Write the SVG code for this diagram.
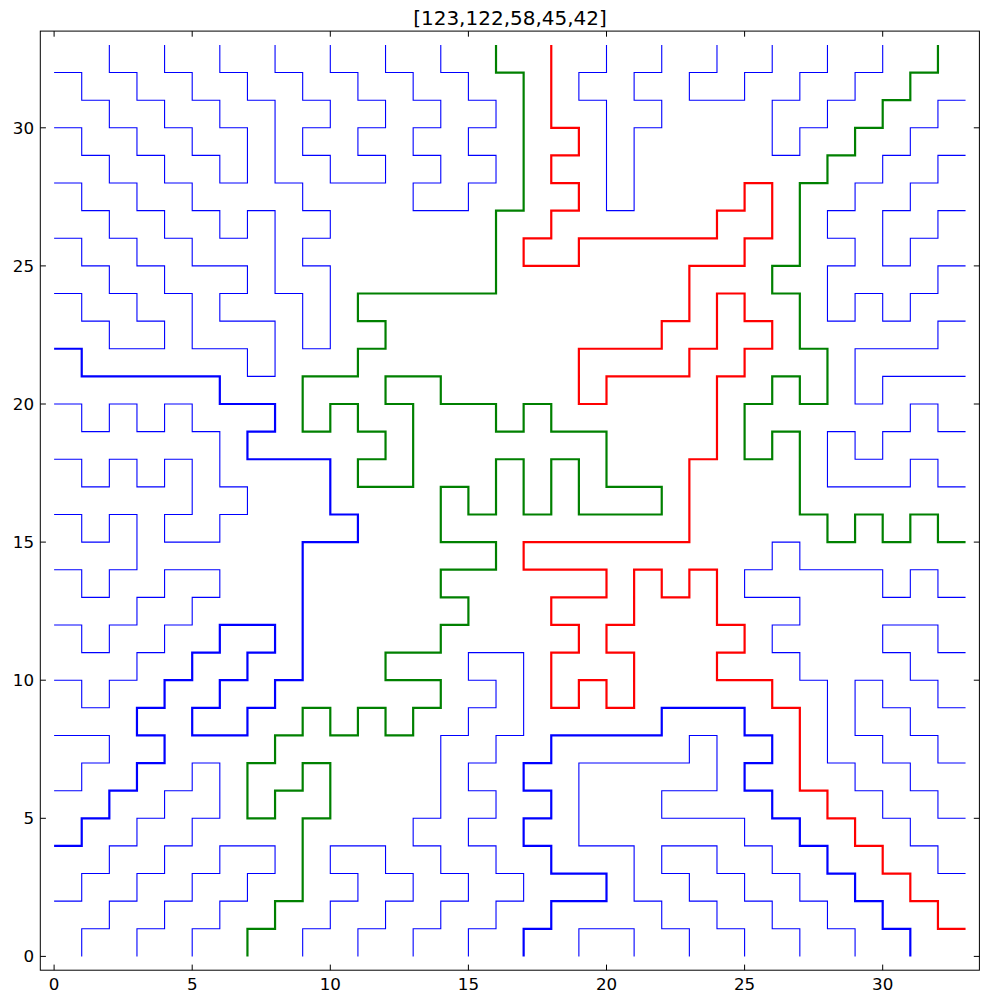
<svg xmlns="http://www.w3.org/2000/svg" width="1000" height="1000" viewBox="0 0 1000 1000">
<style>
.p{fill:none;vector-effect:non-scaling-stroke;stroke-linejoin:miter;stroke-linecap:butt}
.thin{stroke:#0000ff;stroke-width:1.1}
.tb{stroke:#0000ff;stroke-width:2.2}
.tg{stroke:#008000;stroke-width:2.2}
.tr{stroke:#ff0000;stroke-width:2.2}
.tick{stroke:#000;stroke-width:1}
.lbl{font-family:"DejaVu Sans","Liberation Sans",sans-serif;font-size:16.7px;fill:#000}
.ttl{font-family:"DejaVu Sans","Liberation Sans",sans-serif;font-size:20px;fill:#000}
</style>
<rect width="1000" height="1000" fill="#fff"/>
<g id="plot" transform="matrix(27.62,0,0,-27.62,54.1,956.4)">
<g id="thin-paths">
<polyline id="P1" class="p thin" points="0,32 1,32 1,31 2,31 2,30 3,30 3,29 4,29 4,28 5,28 5,27 6,27 6,26 7,26 7,27 8,27 8,24 9,24 9,22 10,22 10,25 9,25 9,26 10,26 10,27 9,27 9,28 8,28 8,31 7,31 7,32 6,32 6,33"/>
<polyline id="P2" class="p thin" points="8,33 8,32 9,32 9,31 10,31 10,30 9,30 9,29 10,29 10,28 12,28 12,29 11,29 11,30 12,30 12,31 11,31 11,32 10,32 10,33"/>
<polyline id="P3" class="p thin" points="12,33 12,32 13,32 13,31 14,31 14,30 13,30 13,29 14,29 14,28 13,28 13,27 15,27 15,28 16,28 16,29 15,29 15,30 16,30 16,31 15,31 15,32 14,32 14,33"/>
<polyline id="P4" class="p thin" points="2,33 2,32 3,32 3,31 4,31 4,30 5,30 5,29 6,29 6,28 7,28 7,30 6,30 6,31 5,31 5,32 4,32 4,33"/>
<polyline id="P5" class="p thin" points="20,33 20,32 19,32 19,31 20,31 20,27 21,27 21,30 22,30 22,31 21,31 21,32 22,32 22,33"/>
<polyline id="P6" class="p thin" points="24,33 24,32 23,32 23,31 25,31 25,32 26,32 26,33"/>
<polyline id="P7" class="p thin" points="28,33 28,32 27,32 27,31 26,31 26,29 27,29 27,30 28,30 28,31 29,31 29,32 30,32 30,33"/>
<polyline id="P8" class="p thin" points="33,31 32,31 32,30 31,30 31,29 30,29 30,28 29,28 29,27 28,27 28,26 29,26 29,25 28,25 28,23 29,23 29,24 30,24 30,23 31,23 31,24 32,24 32,25 33,25"/>
<polyline id="P9" class="p thin" points="33,29 32,29 32,28 31,28 31,27 30,27 30,25 31,25 31,26 32,26 32,27 33,27"/>
<polyline id="P10" class="p thin" points="33,23 32,23 32,22 29,22 29,20 30,20 30,21 33,21"/>
<polyline id="P11" class="p thin" points="33,19 32,19 32,20 31,20 31,19 30,19 30,18 29,18 29,19 28,19 28,17 31,17 31,18 32,18 32,17 33,17"/>
<polyline id="P12" class="p thin" points="33,13 32,13 32,14 31,14 31,13 30,13 30,14 27,14 27,15 26,15 26,14 25,14 25,13 27,13 27,12 26,12 26,11 27,11 27,10 28,10 28,7 29,7 29,6 30,6 30,5 31,5 31,4 32,4 32,3 33,3"/>
<polyline id="P13" class="p thin" points="33,11 32,11 32,12 30,12 30,11 31,11 31,10 32,10 32,9 33,9"/>
<polyline id="P14" class="p thin" points="33,7 32,7 32,8 31,8 31,9 30,9 30,10 29,10 29,8 30,8 30,7 31,7 31,6 32,6 32,5 33,5"/>
<polyline id="P15" class="p thin" points="23,0 23,1 22,1 22,2 21,2 21,4 19,4 19,7 22,7 23,7 23,8 24,8 24,6 22,6 22,5 25,5 25,4 26,4 26,3 27,3 27,2 28,2 28,1 29,1 29,0"/>
<polyline id="P16" class="p thin" points="25,0 25,1 24,1 24,2 23,2 23,3 22,3 22,4 24,4 24,3 25,3 25,2 26,2 26,1 27,1 27,0"/>
<polyline id="P17" class="p thin" points="19,0 19,1 21,1 21,0"/>
<polyline id="P18" class="p thin" points="13,0 13,1 14,1 14,2 15,2 15,3 14,3 14,4 13,4 13,5 14,5 14,8 15,8 15,9 16,9 16,10 15,10 15,11 17,11 17,8 16,8 16,7 15,7 15,6 16,6 16,5 15,5 15,4 16,4 16,3 17,3 17,2 16,2 16,1 15,1 15,0"/>
<polyline id="P19" class="p thin" points="9,0 9,1 10,1 10,2 11,2 11,3 10,3 10,4 12,4 12,3 13,3 13,2 12,2 12,1 11,1 11,0"/>
<polyline id="P20" class="p thin" points="3,0 3,1 4,1 4,2 5,2 5,3 6,3 6,4 8,4 8,3 7,3 7,2 6,2 6,1 5,1 5,0"/>
<polyline id="P21" class="p thin" points="0,2 1,2 1,3 2,3 2,4 3,4 3,5 4,5 4,6 5,6 5,7 6,7 6,5 5,5 5,4 4,4 4,3 3,3 3,2 2,2 2,1 1,1 1,0"/>
<polyline id="P22" class="p thin" points="0,8 2,8 2,7 1,7 1,6 0,6"/>
<polyline id="P23" class="p thin" points="0,12 1,12 1,11 2,11 2,12 3,12 3,13 4,13 4,14 6,14 6,13 5,13 5,12 4,12 4,11 3,11 3,10 2,10 2,9 1,9 1,10 0,10"/>
<polyline id="P24" class="p thin" points="0,16 1,16 1,15 2,15 2,16 3,16 3,14 2,14 2,13 1,13 1,14 0,14"/>
<polyline id="P25" class="p thin" points="0,20 1,20 1,19 2,19 2,20 3,20 3,19 4,19 4,20 5,20 5,19 6,19 6,17 7,17 7,16 6,16 6,15 4,15 4,16 5,16 5,18 4,18 4,17 3,17 3,18 2,18 2,17 1,17 1,18 0,18"/>
<polyline id="P26" class="p thin" points="0,26 1,26 1,25 2,25 2,24 3,24 3,23 4,23 4,22 2,22 2,23 1,23 1,24 0,24"/>
<polyline id="P27" class="p thin" points="0,30 1,30 1,29 2,29 2,28 3,28 3,27 4,27 4,26 5,26 5,25 7,25 7,24 6,24 6,23 8,23 8,21 7,21 7,22 5,22 5,24 4,24 4,25 3,25 3,26 2,26 2,27 1,27 1,28 0,28"/>
</g>
<g id="highlighted-paths">
<polyline id="red-123" class="p tr" points="18,33 18,30 19,30 19,29 18,29 18,28 19,28 19,27 18,27 18,26 17,26 17,25 19,25 19,26 24,26 24,27 25,27 25,28 26,28 26,26 25,26 25,25 23,25 23,23 22,23 22,22 19,22 19,20 20,20 20,21 23,21 23,22 24,22 24,24 25,24 25,23 26,23 26,22 25,22 25,21 24,21 24,18 23,18 23,15 17,15 17,14 20,14 20,13 18,13 18,12 19,12 19,11 18,11 18,9 19,9 19,10 20,10 20,9 21,9 21,11 20,11 20,12 21,12 21,14 22,14 22,13 23,13 23,14 24,14 24,12 25,12 25,11 24,11 24,10 26,10 26,9 27,9 27,6 28,6 28,5 29,5 29,4 30,4 30,3 31,3 31,2 32,2 32,1 33,1"/>
<polyline id="green-122" class="p tg" points="16,33 16,32 17,32 17,27 16,27 16,24 11,24 11,23 12,23 12,22 11,22 11,21 9,21 9,19 10,19 10,20 11,20 11,19 12,19 12,18 11,18 11,17 13,17 13,20 12,20 12,21 14,21 14,20 16,20 16,19 17,19 17,20 18,20 18,19 20,19 20,17 22,17 22,16 19,16 19,18 18,18 18,16 17,16 17,18 16,18 16,16 15,16 15,17 14,17 14,15 16,15 16,14 14,14 14,13 15,13 15,12 14,12 14,11 12,11 12,10 14,10 14,9 13,9 13,8 12,8 12,9 11,9 11,8 10,8 10,9 9,9 9,8 8,8 8,7 7,7 7,5 8,5 8,6 9,6 9,7 10,7 10,5 9,5 9,2 8,2 8,1 7,1 7,0"/>
<polyline id="blue-58" class="p tb" points="0,4 1,4 1,5 2,5 2,6 3,6 3,7 4,7 4,8 3,8 3,9 4,9 4,10 5,10 5,11 6,11 6,12 8,12 8,11 7,11 7,10 6,10 6,9 5,9 5,8 7,8 7,9 8,9 8,10 9,10 9,15 11,15 11,16 10,16 10,18 7,18 7,19 8,19 8,20 6,20 6,21 1,21 1,22 0,22"/>
<polyline id="green-45" class="p tg" points="32,33 32,32 31,32 31,31 30,31 30,30 29,30 29,29 28,29 28,28 27,28 27,25 26,25 26,24 27,24 27,22 28,22 28,20 27,20 27,21 26,21 26,20 25,20 25,18 26,18 26,19 27,19 27,16 28,16 28,15 29,15 29,16 30,16 30,15 31,15 31,16 32,16 32,15 33,15"/>
<polyline id="blue-42" class="p tb" points="17,0 17,1 18,1 18,2 20,2 20,3 18,3 18,4 17,4 17,5 18,5 18,6 17,6 17,7 18,7 18,8 22,8 22,9 25,9 25,8 26,8 26,7 25,7 25,6 26,6 26,5 27,5 27,4 28,4 28,3 29,3 29,2 30,2 30,1 31,1 31,0"/>
</g>
</g>
<g id="axes">
<rect x="40.3" y="31.1" width="939.1" height="939.1" fill="none" stroke="#000" stroke-width="1"/>
<g class="tick">
<path d="M54.1,970.2v-5.6M192.2,970.2v-5.6M330.3,970.2v-5.6M468.4,970.2v-5.6M606.5,970.2v-5.6M744.6,970.2v-5.6M882.7,970.2v-5.6"/>
<path d="M54.1,31.1v5.6M192.2,31.1v5.6M330.3,31.1v5.6M468.4,31.1v5.6M606.5,31.1v5.6M744.6,31.1v5.6M882.7,31.1v5.6"/>
<path d="M40.3,956.4h5.6M40.3,818.3h5.6M40.3,680.2h5.6M40.3,542.1h5.6M40.3,404h5.6M40.3,265.9h5.6M40.3,127.8h5.6"/>
<path d="M979.4,956.4h-5.6M979.4,818.3h-5.6M979.4,680.2h-5.6M979.4,542.1h-5.6M979.4,404h-5.6M979.4,265.9h-5.6M979.4,127.8h-5.6"/>
</g>
<g class="lbl" text-anchor="middle">
<text x="54.1" y="990">0</text>
<text x="192.2" y="990">5</text>
<text x="330.3" y="990">10</text>
<text x="468.4" y="990">15</text>
<text x="606.5" y="990">20</text>
<text x="744.6" y="990">25</text>
<text x="882.7" y="990">30</text>
</g>
<g class="lbl" text-anchor="end">
<text x="34" y="962.4">0</text>
<text x="34" y="824.3">5</text>
<text x="34" y="686.2">10</text>
<text x="34" y="548.1">15</text>
<text x="34" y="410">20</text>
<text x="34" y="271.9">25</text>
<text x="34" y="133.8">30</text>
</g>
<text class="ttl" x="510" y="25" text-anchor="middle">[123,122,58,45,42]</text>
</g>
</svg>
